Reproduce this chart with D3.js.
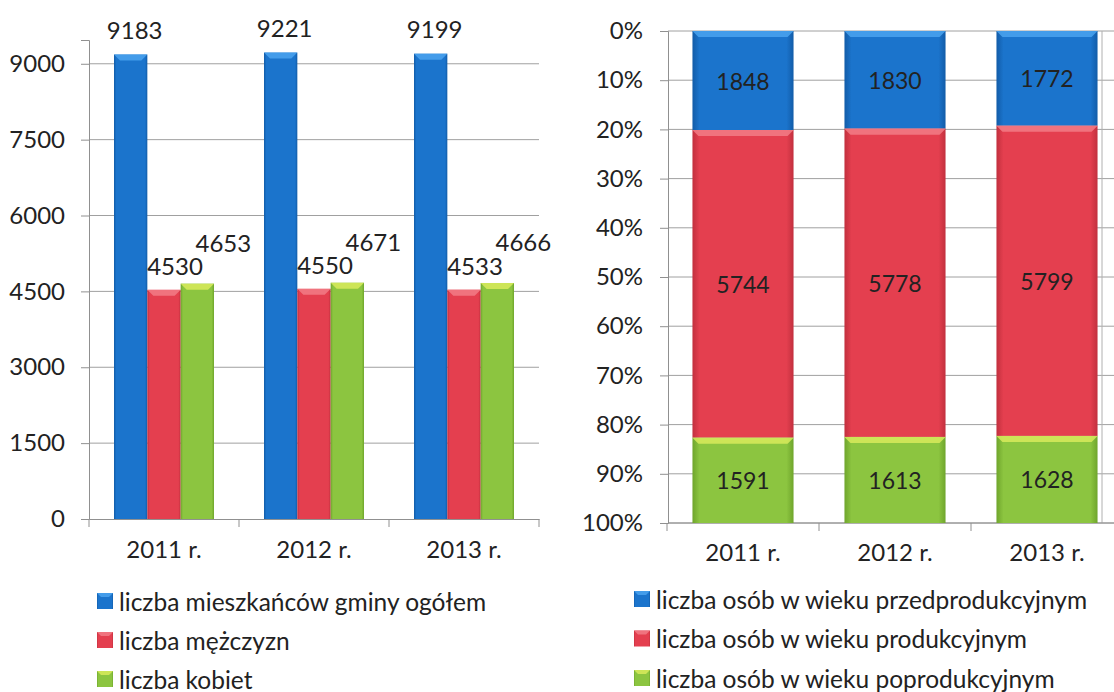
<!DOCTYPE html>
<html>
<head>
<meta charset="utf-8">
<script src="https://cdn.jsdelivr.net/npm/d3@7"></script>
<style>
  body { margin: 0; background: #fff; }
  text { font-family: Lato, "Open Sans", sans-serif; fill: #222; }
</style>
</head>
<body>
<svg width="1114" height="692"></svg>
<script>
  // data
  var years = ["2011 r.", "2012 r.", "2013 r."];

  var ogolem = [9183, 9221, 9199];
  var mezczyzni = [4530, 4550, 4533];
  var kobiety = [4653, 4671, 4666];
  var leftNames = ["liczba mieszkańców gminy ogółem", "liczba mężczyzn", "liczba kobiet"];
  var leftTicks = [0, 1500, 3000, 4500, 6000, 7500, 9000];

  var przedprod = [1848, 1830, 1772];
  var produkcyjny = [5744, 5778, 5799];
  var poprod = [1591, 1613, 1628];
  var rightNames = ["liczba osób w wieku przedprodukcyjnym", "liczba osób w wieku produkcyjnym", "liczba osób w wieku poprodukcyjnym"];
  var pctTicks = [0, 0.1, 0.2, 0.3, 0.4, 0.5, 0.6, 0.7, 0.8, 0.9, 1];

  var colors = ["#1b74cc", "#e43f4f", "#8cc540"],
      darker = ["#125ca8", "#c2303e", "#6fa52c"],
      light = ["#4aa3ee", "#f27c86", "#d8ea5c"];

  var svg = d3.select("svg");
  var defs = svg.append("defs");

  colors.forEach(function(c, i) {
    var gr = defs.append("linearGradient").attr("id", "grad" + i)
        .attr("x1", 0).attr("x2", 1).attr("y1", 0).attr("y2", 0);
    gr.append("stop").attr("offset", 0).attr("stop-color", darker[i]);
    gr.append("stop").attr("offset", 0.07).attr("stop-color", c);
    gr.append("stop").attr("offset", 0.93).attr("stop-color", c);
    gr.append("stop").attr("offset", 1).attr("stop-color", darker[i]);
  });

  function bevel(g, x, y, w, h, i) {
    g.append("rect").attr("x", x).attr("y", y).attr("width", w).attr("height", h)
        .attr("fill", "url(#grad" + i + ")");
    var b = Math.min(6, h / 4);
    g.append("path")
        .attr("d", "M" + x + "," + y + "H" + (x + w) + "L" + (x + w - b) + "," + (y + b) + "H" + (x + b) + "Z")
        .attr("fill", light[i]).attr("opacity", 0.85);
  }

  // ---------- left chart: grouped bars ----------
  var left = svg.append("g");
  var x0 = d3.scaleBand().domain(years).range([89, 539]);
  var x1 = d3.scaleBand().domain([0, 1, 2]).range([25, 125]);
  var y = d3.scaleLinear().domain([0, 9470]).range([519, 40]);

  left.selectAll(".grid").data(leftTicks.slice(1)).enter().append("line")
      .attr("x1", 89).attr("x2", 539)
      .attr("y1", function(d) { return y(d); }).attr("y2", function(d) { return y(d); })
      .attr("stroke", "#a0a0a0");

  var yAxis = left.append("g").attr("transform", "translate(89,0)")
      .call(d3.axisLeft(y).tickValues(leftTicks).tickFormat(d3.format("d")).tickSize(8).tickPadding(16));
  yAxis.select(".domain").attr("stroke", "#909090");
  yAxis.selectAll(".tick line").attr("stroke", "#909090");
  yAxis.selectAll("text").style("font-size", "24px").attr("fill", "#222");

  var xAxis = left.append("g").attr("transform", "translate(0,519)")
      .call(d3.axisBottom(x0).tickSize(0).tickPadding(22));
  xAxis.select(".domain").attr("stroke", "#909090");
  xAxis.selectAll("text").style("font-size", "24px").attr("fill", "#222");
  left.selectAll(".sep").data([89].concat(years.map(function(d) { return x0(d) + x0.bandwidth(); })))
      .enter().append("line")
      .attr("x1", function(d) { return d; }).attr("x2", function(d) { return d; })
      .attr("y1", 519).attr("y2", 527).attr("stroke", "#909090");

  var leftData = [ogolem, mezczyzni, kobiety];
  var labelDx = [4, 11, 26], labelDy = [-25, -24, -41];
  years.forEach(function(yr, j) {
    leftData.forEach(function(arr, i) {
      var bx = x0(yr) + x1(i);
      bevel(left, bx, y(arr[j]), x1.bandwidth(), y(0) - y(arr[j]), i);
    });
  });
  years.forEach(function(yr, j) {
    leftData.forEach(function(arr, i) {
      left.append("text")
          .attr("x", x0(yr) + x1(i) + x1.bandwidth() / 2 + labelDx[i])
          .attr("y", y(arr[j]) + labelDy[i])
          .attr("text-anchor", "middle").attr("dominant-baseline", "central")
          .style("font-size", "24px")
          .text(arr[j]);
    });
  });

  // ---------- right chart: 100% stacked ----------
  var right = svg.append("g");
  var xr = d3.scaleBand().domain(years).range([667, 1123]).paddingInner(0.335).paddingOuter(0.1675);
  var yr = d3.scaleLinear().domain([0, 1]).range([31, 523]);

  right.selectAll(".grid").data(pctTicks).enter().append("line")
      .attr("x1", 668).attr("x2", 1114)
      .attr("y1", function(d) { return yr(d); }).attr("y2", function(d) { return yr(d); })
      .attr("stroke", "#a0a0a0");
  right.append("line").attr("x1", 1102).attr("x2", 1102).attr("y1", 31).attr("y2", 523)
      .attr("stroke", "#b0b0b0");

  var yrAxis = right.append("g").attr("transform", "translate(668,0)")
      .call(d3.axisLeft(yr).tickValues(pctTicks).tickFormat(d3.format(".0%")).tickSize(8).tickPadding(17));
  yrAxis.select(".domain").attr("stroke", "#909090");
  yrAxis.selectAll(".tick line").attr("stroke", "#909090");
  yrAxis.selectAll("text").style("font-size", "24px").attr("fill", "#222");

  var xrAxis = right.append("g").attr("transform", "translate(0,523)")
      .call(d3.axisBottom(xr).tickSize(0).tickPadding(21));
  xrAxis.select(".domain").remove();
  xrAxis.selectAll("text").style("font-size", "24px").attr("fill", "#222");
  right.append("line").attr("x1", 668).attr("x2", 1114).attr("y1", 523).attr("y2", 523).attr("stroke", "#909090");
  right.selectAll(".sep").data([667, 819, 971]).enter().append("line")
      .attr("x1", function(d) { return d; }).attr("x2", function(d) { return d; })
      .attr("y1", 523).attr("y2", 531).attr("stroke", "#909090");

  var rightData = [przedprod, produkcyjny, poprod];
  var stack = d3.stack().keys([0, 1, 2]).offset(d3.stackOffsetExpand)
      .value(function(d, k) { return rightData[k][d]; });
  var series = stack(years.map(function(d, j) { return j; }));
  series.forEach(function(s, i) {
    s.forEach(function(p, j) {
      bevel(right, xr(years[j]), yr(p[0]), xr.bandwidth(), yr(p[1]) - yr(p[0]), i);
    });
  });
  series.forEach(function(s, i) {
    s.forEach(function(p, j) {
      right.append("text")
          .attr("x", xr(years[j]) + xr.bandwidth() / 2)
          .attr("y", (yr(p[0]) + yr(p[1])) / 2)
          .attr("text-anchor", "middle").attr("dominant-baseline", "central")
          .style("font-size", "23px")
          .text(rightData[i][j]);
    });
  });

  // ---------- legends ----------
  function legend(names, lx, ly, step) {
    var lg = svg.append("g");
    names.forEach(function(n, i) {
      bevel(lg, lx, ly + i * step - 8, 16, 16, i);
      lg.append("text").attr("x", lx + 22).attr("y", ly + i * step)
          .attr("dominant-baseline", "central")
          .style("font-size", "24.5px")
          .text(n);
    });
  }
  legend(leftNames, 97, 601, 39);
  legend(rightNames, 634, 599, 39.5);
</script>
</body>
</html>
